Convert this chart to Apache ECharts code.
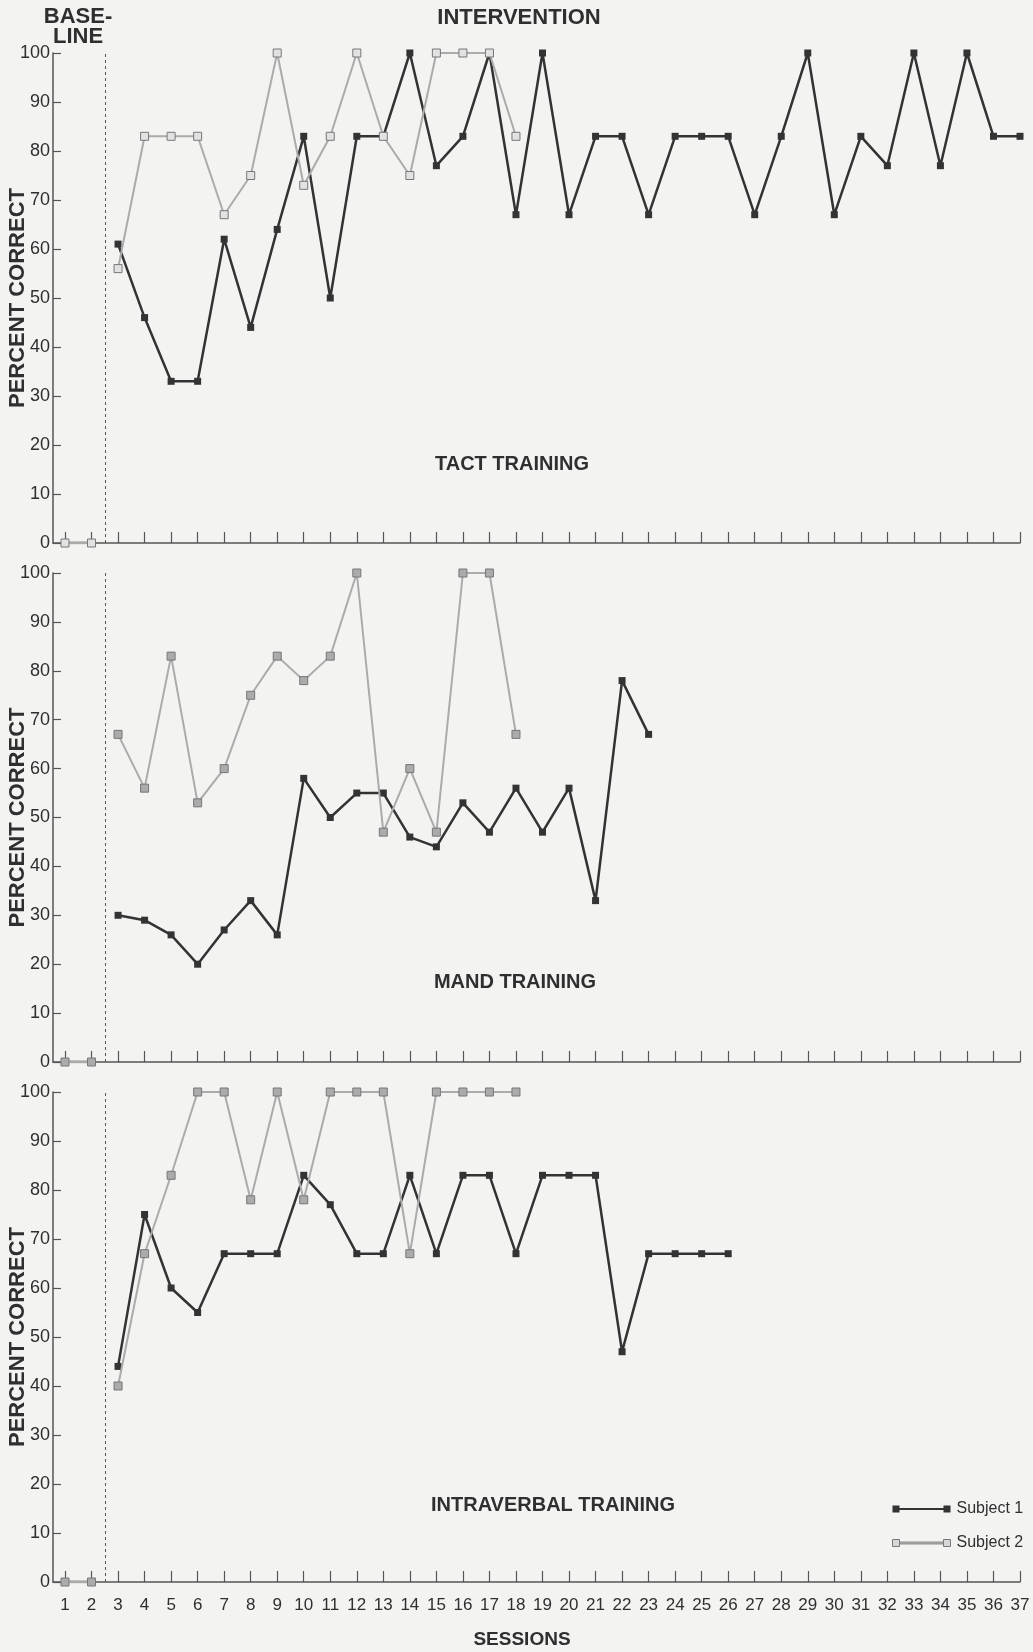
<!DOCTYPE html>
<html>
<head>
<meta charset="utf-8">
<script src="https://cdn.jsdelivr.net/npm/echarts@6.0.0/dist/echarts.min.js"></script>
<style>
    html, body { margin: 0; padding: 0; background: #f3f3f2; }
    #main { width: 1033px; height: 1652px; }
</style>
</head>
<body>
<div id="main"></div>
<script>
    // sessions on the x axis
    var sessions = [];
    for (var s = 1; s <= 37; s++) sessions.push(s);
    var yTicks = [0, 10, 20, 30, 40, 50, 60, 70, 80, 90, 100];

    var phaseChange = 2.5;      // baseline -> intervention
    var interventionStart = 3;  // first intervention session

    // baseline (sessions 1-2)
    var tactBase1 = [0, 0];
    var tactBase2 = [0, 0];
    var mandBase1 = [0, 0];
    var mandBase2 = [0, 0];
    var intraBase1 = [0, 0];
    var intraBase2 = [0, 0];

    // intervention, from session 3
    var tactS1 = [61, 46, 33, 33, 62, 44, 64, 83, 50, 83, 83, 100, 77, 83, 100, 67, 100, 67, 83, 83, 67, 83, 83, 83, 67, 83, 100, 67, 83, 77, 100, 77, 100, 83, 83];
    var tactS2 = [56, 83, 83, 83, 67, 75, 100, 73, 83, 100, 83, 75, 100, 100, 100, 83];
    var mandS1 = [30, 29, 26, 20, 27, 33, 26, 58, 50, 55, 55, 46, 44, 53, 47, 56, 47, 56, 33, 78, 67];
    var mandS2 = [67, 56, 83, 53, 60, 75, 83, 78, 83, 100, 47, 60, 47, 100, 100, 67];
    var intraS1 = [44, 75, 60, 55, 67, 67, 67, 83, 77, 67, 67, 83, 67, 83, 83, 67, 83, 83, 83, 47, 67, 67, 67, 67];
    var intraS2 = [40, 67, 83, 100, 100, 78, 100, 78, 100, 100, 100, 67, 100, 100, 100, 100];

    var panelTitles = ['TACT TRAINING', 'MAND TRAINING', 'INTRAVERBAL TRAINING'];

    var SANS = "'Liberation Sans', Arial, Helvetica, sans-serif";
    var INK = '#2f2f2f';
    var AXIS = '#555';

    function pts(start, values) {
        return values.map(function (v, i) { return [start + i, v]; });
    }

    var grids = [
        {left: 53, top: 53, width: 967, height: 490},
        {left: 53, top: 573, width: 967, height: 489},
        {left: 53, top: 1092, width: 967, height: 490}
    ].map(function (gr) {
        gr.containLabel = false;
        gr.outerBoundsMode = 'none';
        return gr;
    });

    var xAxes = [], yAxes = [];
    for (var g = 0; g < 3; g++) {
        xAxes.push({
            type: 'value', gridIndex: g, min: 0.548, max: 37,
            axisLine: {show: true, onZero: false, lineStyle: {color: AXIS, width: 1.5}},
            axisTick: {show: true, inside: true, length: 11, customValues: sessions, lineStyle: {color: AXIS, width: 1.2}},
            axisLabel: {show: g === 2, customValues: sessions, margin: 15, fontSize: 17, fontFamily: SANS, color: INK},
            splitLine: {show: false}
        });
        yAxes.push({
            type: 'value', gridIndex: g, min: 0, max: 100, interval: 10,
            name: 'PERCENT CORRECT', nameLocation: 'middle', nameRotate: 90, nameGap: 24,
            nameMoveOverlap: false,
            nameTextStyle: {fontSize: 22, fontWeight: 'bold', fontFamily: SANS, color: INK},
            axisLine: {show: true, onZero: false, lineStyle: {color: AXIS, width: 1.5}},
            axisTick: {show: true, inside: true, length: 8, lineStyle: {color: AXIS, width: 1.2}},
            axisLabel: {margin: 3, fontSize: 18, fontFamily: SANS, color: INK},
            splitLine: {show: false}
        });
    }

    function subject1(g, data, withPhase) {
        var sr = {
            name: 'Subject 1', type: 'line', xAxisIndex: g, yAxisIndex: g,
            data: data, symbol: 'rect', symbolSize: 7, z: 3,
            lineStyle: {color: '#333', width: 2.5},
            itemStyle: {color: '#333'}
        };
        if (withPhase) {
            sr.markLine = {
                silent: true, symbol: 'none', label: {show: false},
                lineStyle: {color: '#555', type: [3, 3], width: 1},
                data: [{xAxis: phaseChange}]
            };
        }
        return sr;
    }

    function subject2(g, data, fill) {
        return {
            name: 'Subject 2', type: 'line', xAxisIndex: g, yAxisIndex: g,
            data: data, symbol: 'rect', symbolSize: 8, z: 4,
            lineStyle: {color: '#ababab', width: 2},
            itemStyle: {color: fill, borderColor: '#777', borderWidth: 1}
        };
    }

    var series = [
        subject1(0, pts(1, tactBase1), true),
        subject1(0, pts(interventionStart, tactS1)),
        subject2(0, pts(1, tactBase2), '#e2e2e2'),
        subject2(0, pts(interventionStart, tactS2), '#e2e2e2'),

        subject1(1, pts(1, mandBase1), true),
        subject1(1, pts(interventionStart, mandS1)),
        subject2(1, pts(1, mandBase2), '#ababab'),
        subject2(1, pts(interventionStart, mandS2), '#ababab'),

        subject1(2, pts(1, intraBase1), true),
        subject1(2, pts(interventionStart, intraS1)),
        subject2(2, pts(1, intraBase2), '#ababab'),
        subject2(2, pts(interventionStart, intraS2), '#ababab')
    ];

    var legendIcon = 'path://M0,0h7v7h-7z M7,2.6h44v1.8h-44z M51,0h7v7h-7z';

    function label(text, x, y, size) {
        return {
            type: 'text', x: x, y: y, silent: true,
            style: {
                text: text, align: 'center', verticalAlign: 'middle',
                font: 'bold ' + size + 'px ' + SANS, fill: INK, lineHeight: 20
            }
        };
    }

    var myChart = echarts.init(document.getElementById('main'));
    var option = {
        backgroundColor: '#f3f3f2',
        animation: false,
        grid: grids,
        xAxis: xAxes,
        yAxis: yAxes,
        legend: {
            orient: 'vertical', left: 887, top: 1494,
            itemWidth: 58, itemHeight: 7, itemGap: 14,
            icon: legendIcon,
            textStyle: {fontSize: 16, lineHeight: 20, fontFamily: SANS, color: INK, padding: [0, 0, 0, 1]},
            data: [
                {name: 'Subject 1', itemStyle: {color: '#333', borderWidth: 0}},
                {name: 'Subject 2', itemStyle: {color: '#d6d6d6', borderColor: '#777', borderWidth: 1}}
            ]
        },
        graphic: [
            label('BASE-\nLINE', 78, 27, 22),
            label('INTERVENTION', 519, 18, 22),
            label(panelTitles[0], 512, 464, 20),
            label(panelTitles[1], 515, 982, 20),
            label(panelTitles[2], 553, 1505, 20),
            label('SESSIONS', 522, 1640, 19)
        ],
        series: series
    };

    option && myChart.setOption(option);
</script>
</body>
</html>
